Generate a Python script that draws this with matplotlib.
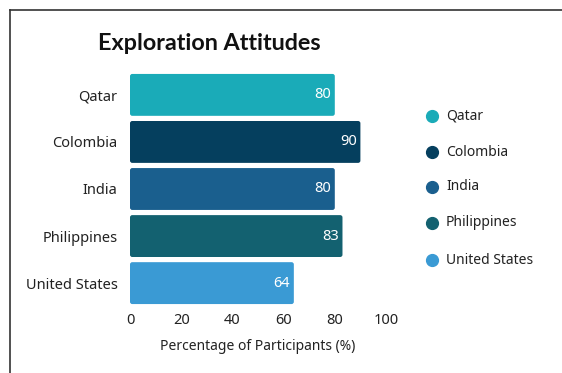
import matplotlib
matplotlib.use("Agg")
import matplotlib.pyplot as plt
from matplotlib.lines import Line2D
from matplotlib.patches import FancyBboxPatch

categories = ["Qatar", "Colombia", "India", "Philippines", "United States"]
values = [80, 90, 80, 83, 64]
colors = ["#1AABB8", "#053F5E", "#1A5F8E", "#136170", "#3A9AD4"]
xticks = [0, 20, 40, 60, 80, 100]

plt.rcParams['font.family'] = ['Noto Sans', 'DejaVu Sans']

W, H = 562, 373
fig = plt.figure(figsize=(W/100, H/100), dpi=100)
ax = fig.add_axes([130/W, 1-309/H, 256/W, 240/H])

y = list(range(len(categories)))
bars = ax.barh(y, values, height=0.89, color=colors)
aspect = (256/100) / (240/5.1)
for b in bars:
    x0, y0 = b.get_x(), b.get_y()
    w, h = b.get_width(), b.get_height()
    b.set_visible(False)
    p = FancyBboxPatch((x0, y0), w, h, boxstyle="round,pad=0,rounding_size=0.9",
                       mutation_aspect=aspect, facecolor=b.get_facecolor(), edgecolor="none")
    ax.add_patch(p)
for yi, v in zip(y, values):
    ax.text(v - 1.5, yi, str(v), color="white", ha="right", va="center", fontsize=10.5)

ax.set_xlim(0, 100)
ax.set_ylim(len(categories) - 0.45, -0.55)
ax.set_yticks(y)
ax.set_yticklabels(categories, fontsize=10.5, color="#222222")
ax.set_xticks(xticks)
ax.set_xticklabels([str(t) for t in xticks], fontsize=10.5, color="#222222")
ax.tick_params(length=0, pad=3)
ax.tick_params(axis='y', pad=9)
for s in ax.spines.values():
    s.set_visible(False)
ax.set_xlabel("Percentage of Participants (%)", fontsize=10, color="#222222", labelpad=8)

fig.text(98/W, 1-43/H, "Exploration Attitudes", fontsize=16.8, fontweight="bold",
         family=["Lato", "DejaVu Sans"], ha="left", va="center", color="#111111")

# legend
ly = [116, 152, 187, 223, 260]
for col, lab, yy in zip(colors, categories, ly):
    fig.add_artist(Line2D([432/W], [1-yy/H], marker='o', markersize=8.5, color=col,
                          linestyle='None', transform=fig.transFigure))
    fig.text(446/W, 1-yy/H, lab, fontsize=10, ha="left", va="center", color="#222222")

# frame
fig.add_artist(Line2D([9.5/W, 9.5/W], [0, 1-9.5/H], color="#333333", lw=1.2, transform=fig.transFigure))
fig.add_artist(Line2D([9.5/W, 1], [1-9.5/H, 1-9.5/H], color="#333333", lw=1.2, transform=fig.transFigure))

fig.savefig("out.png", dpi=100)
